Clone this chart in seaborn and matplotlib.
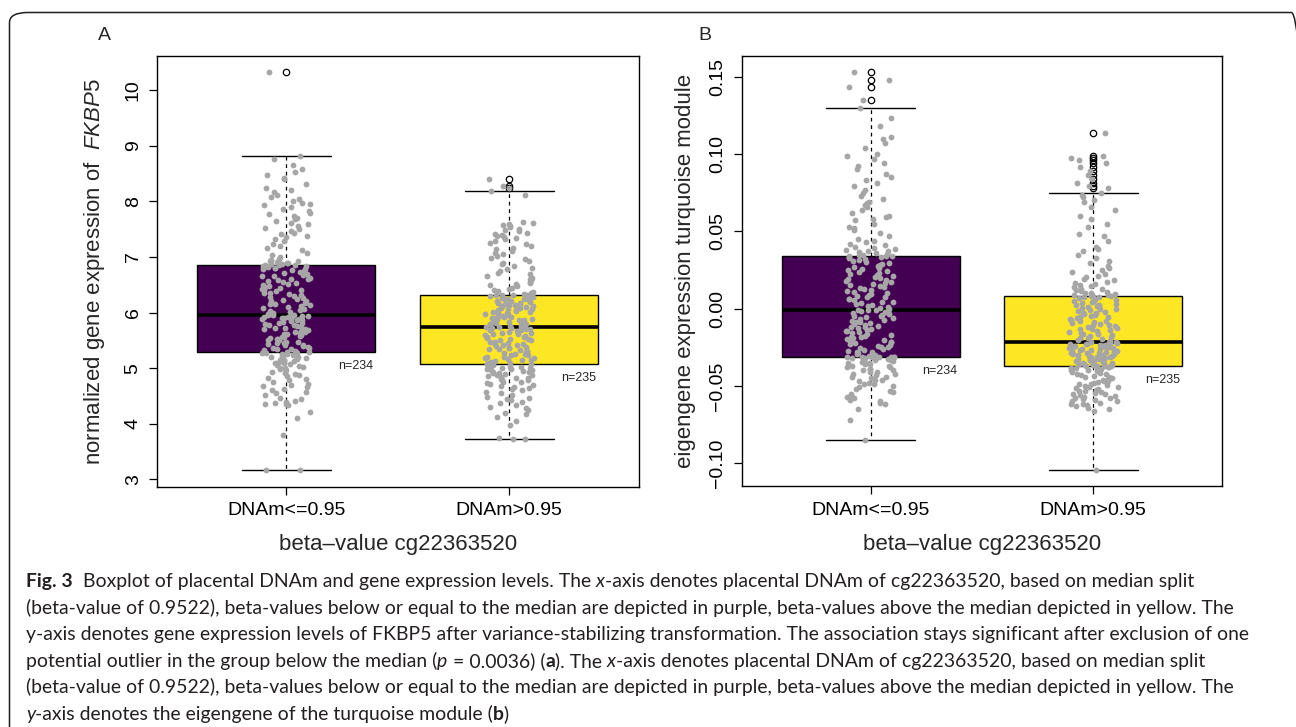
import numpy as np
import pandas as pd
import matplotlib
matplotlib.use("Agg")
import matplotlib.pyplot as plt
from matplotlib import font_manager
from matplotlib.patches import FancyBboxPatch
import seaborn as sns

# groups (median split of cg22363520) and the viridis ends used for the boxes
groups = ["DNAm<=0.95", "DNAm>0.95"]
box_colors = ["#440154", "#FDE725"]

# panel A: normalized FKBP5 expression per sample (sorted)
fkbp5_low = [
    3.16, 3.17, 3.80, 4.10, 4.22, 4.33, 4.35, 4.36, 4.38, 4.40,
    4.41, 4.44, 4.47, 4.52, 4.55, 4.58, 4.60, 4.63, 4.66, 4.68,
    4.70, 4.72, 4.75, 4.78, 4.80, 4.83, 4.86, 4.88, 4.90, 4.92,
    4.94, 4.96, 4.98, 5.00, 5.01, 5.03, 5.04, 5.06, 5.07, 5.09,
    5.10, 5.11, 5.13, 5.14, 5.15, 5.17, 5.18, 5.19, 5.20, 5.21,
    5.22, 5.23, 5.24, 5.25, 5.26, 5.27, 5.28, 5.28,
    5.29, 5.29,
    5.30, 5.31, 5.32, 5.34, 5.35, 5.36, 5.37, 5.38, 5.40, 5.41,
    5.42, 5.43, 5.45, 5.46, 5.47, 5.48, 5.50, 5.51, 5.52, 5.53,
    5.55, 5.56, 5.57, 5.58, 5.60, 5.61, 5.62, 5.63, 5.65, 5.66,
    5.67, 5.68, 5.70, 5.71, 5.72, 5.73, 5.75, 5.76, 5.77, 5.78,
    5.80, 5.81, 5.82, 5.83, 5.85, 5.86, 5.87, 5.88, 5.89, 5.90,
    5.91, 5.92, 5.93, 5.93, 5.94, 5.94,
    5.95, 5.95,
    5.96, 5.98, 6.00, 6.01, 6.03, 6.05, 6.06, 6.08, 6.10, 6.11,
    6.13, 6.15, 6.16, 6.18, 6.20, 6.21, 6.23, 6.25, 6.26, 6.28,
    6.30, 6.31, 6.33, 6.35, 6.36, 6.38, 6.40, 6.41, 6.43, 6.45,
    6.46, 6.48, 6.50, 6.51, 6.53, 6.55, 6.56, 6.58, 6.60, 6.61,
    6.63, 6.65, 6.66, 6.68, 6.70, 6.71, 6.73, 6.75, 6.76, 6.78,
    6.79, 6.80, 6.81, 6.82, 6.83, 6.84,
    6.85, 6.85,
    6.86, 6.87, 6.88, 6.89, 6.90, 6.91, 6.92, 6.93, 6.95, 6.97,
    7.00, 7.04, 7.08, 7.12, 7.16, 7.20, 7.24, 7.28, 7.32, 7.36,
    7.38, 7.41, 7.44, 7.47, 7.50, 7.53, 7.56, 7.59, 7.62, 7.65,
    7.68, 7.71, 7.74, 7.77, 7.80, 7.83, 7.86, 7.90, 7.93, 7.96,
    7.98, 8.01, 8.04, 8.08, 8.12, 8.17, 8.20, 8.25, 8.32, 8.40,
    8.43, 8.47, 8.53, 8.58, 8.65, 8.76, 8.82, 10.32,
]
fkbp5_high = [
    3.72, 3.73, 3.74, 3.97, 4.05, 4.12, 4.18, 4.20, 4.25, 4.28,
    4.30, 4.33, 4.38, 4.40, 4.42, 4.44, 4.46, 4.48, 4.52, 4.55,
    4.57, 4.60, 4.62, 4.64, 4.66, 4.68, 4.70, 4.72, 4.73, 4.75,
    4.76, 4.78, 4.79, 4.80, 4.82, 4.83, 4.84, 4.86, 4.87, 4.88,
    4.90, 4.91, 4.92, 4.93, 4.94, 4.95, 4.96, 4.97, 4.98, 4.99,
    5.00, 5.01, 5.02, 5.03, 5.04, 5.05, 5.06, 5.06,
    5.07, 5.07,
    5.08, 5.09, 5.10, 5.12, 5.13, 5.14, 5.15, 5.17, 5.18, 5.19,
    5.20, 5.21, 5.23, 5.24, 5.25, 5.26, 5.28, 5.29, 5.30, 5.31,
    5.32, 5.34, 5.35, 5.36, 5.37, 5.39, 5.40, 5.41, 5.42, 5.43,
    5.45, 5.46, 5.47, 5.48, 5.50, 5.51, 5.52, 5.53, 5.54, 5.56,
    5.57, 5.58, 5.59, 5.61, 5.62, 5.63, 5.64, 5.65, 5.67, 5.68,
    5.69, 5.70, 5.71, 5.72, 5.73, 5.74, 5.74,
    5.75,
    5.76, 5.77, 5.78, 5.79, 5.80, 5.81, 5.82, 5.83, 5.84, 5.85,
    5.86, 5.87, 5.88, 5.89, 5.90, 5.91, 5.92, 5.93, 5.94, 5.95,
    5.96, 5.97, 5.98, 5.99, 6.00, 6.01, 6.02, 6.03, 6.04, 6.05,
    6.06, 6.07, 6.08, 6.09, 6.10, 6.11, 6.12, 6.13, 6.14, 6.15,
    6.16, 6.17, 6.18, 6.19, 6.20, 6.21, 6.22, 6.23, 6.24, 6.25,
    6.26, 6.27, 6.28, 6.29, 6.30, 6.31, 6.31,
    6.32, 6.32,
    6.33, 6.35, 6.37, 6.39, 6.41, 6.43, 6.45, 6.47, 6.49, 6.51,
    6.53, 6.55, 6.58, 6.60, 6.63, 6.66, 6.69, 6.72, 6.75, 6.78,
    6.81, 6.84, 6.87, 6.90, 6.93, 6.96, 6.99, 7.02, 7.05, 7.08,
    7.11, 7.14, 7.17, 7.20, 7.23, 7.26, 7.29, 7.32, 7.34, 7.36,
    7.38, 7.40, 7.42, 7.44, 7.46, 7.48, 7.51, 7.54, 7.56, 7.58,
    7.60, 7.62, 7.63, 8.12, 8.18, 8.25, 8.27, 8.41,
]

# panel B: eigengene of the turquoise module per sample (sorted)
turq_low = [
    -0.085, -0.072, -0.065, -0.062, -0.061, -0.060, -0.059, -0.058, -0.057, -0.056,
    -0.055, -0.054, -0.053, -0.052, -0.051, -0.050, -0.049, -0.049, -0.048, -0.047,
    -0.046, -0.046, -0.045, -0.044, -0.044, -0.043, -0.042, -0.042, -0.041, -0.041,
    -0.040, -0.040, -0.039, -0.039, -0.038, -0.038, -0.037, -0.037, -0.036, -0.036,
    -0.0355, -0.035, -0.0345, -0.034, -0.0337, -0.0334, -0.0331, -0.0328, -0.0325, -0.0322,
    -0.0320, -0.0318, -0.0316, -0.0314, -0.0313, -0.0312, -0.0311, -0.0311,
    -0.031, -0.031,
    -0.0305, -0.0300, -0.0294, -0.0289, -0.0283, -0.0278, -0.0273, -0.0267, -0.0262, -0.0256,
    -0.0251, -0.0246, -0.0240, -0.0235, -0.0229, -0.0224, -0.0219, -0.0213, -0.0208, -0.0202,
    -0.0197, -0.0192, -0.0186, -0.0181, -0.0175, -0.0170, -0.0165, -0.0159, -0.0154, -0.0148,
    -0.0143, -0.0138, -0.0132, -0.0127, -0.0121, -0.0116, -0.0111, -0.0105, -0.0100, -0.0094,
    -0.0089, -0.0084, -0.0078, -0.0073, -0.0067, -0.0062, -0.0057, -0.0051, -0.0046, -0.0040,
    -0.0035, -0.0030, -0.0024, -0.0019, -0.0015, -0.0012,
    -0.001, -0.001,
    -0.0004, 0.0002, 0.0008, 0.0015, 0.0021, 0.0027, 0.0034, 0.0040, 0.0046, 0.0053,
    0.0059, 0.0065, 0.0072, 0.0078, 0.0084, 0.0091, 0.0097, 0.0103, 0.0110, 0.0116,
    0.0122, 0.0129, 0.0135, 0.0141, 0.0148, 0.0154, 0.0160, 0.0167, 0.0173, 0.0179,
    0.0186, 0.0192, 0.0198, 0.0205, 0.0211, 0.0217, 0.0224, 0.0230, 0.0236, 0.0243,
    0.0249, 0.0255, 0.0262, 0.0268, 0.0274, 0.0281, 0.0287, 0.0293, 0.0300, 0.0306,
    0.0312, 0.0319, 0.0325, 0.0331, 0.0336, 0.0340,
    0.0342, 0.0342,
    0.0345, 0.0350, 0.0355, 0.0360, 0.0365, 0.0370, 0.0375, 0.0380, 0.0385, 0.0390,
    0.040, 0.041, 0.042, 0.043, 0.044, 0.045, 0.047, 0.049, 0.051, 0.052,
    0.053, 0.055, 0.057, 0.058, 0.059, 0.060, 0.062, 0.064, 0.066, 0.067,
    0.068, 0.069, 0.071, 0.073, 0.075, 0.077, 0.079, 0.081, 0.083, 0.085,
    0.087, 0.090, 0.092, 0.094, 0.097, 0.099, 0.100, 0.104, 0.107, 0.110,
    0.111, 0.118, 0.123, 0.130, 0.1352, 0.1436, 0.1480, 0.1533,
]
turq_high = [
    -0.1047, -0.0660, -0.0650, -0.0640, -0.0630, -0.0625, -0.0620, -0.0615, -0.0610, -0.0600,
    -0.0595, -0.0590, -0.0585, -0.0580, -0.0575, -0.0570, -0.0565, -0.0560, -0.0555, -0.0550,
    -0.0545, -0.0540, -0.0535, -0.0530, -0.0525, -0.0520, -0.0515, -0.0510, -0.0505, -0.0500,
    -0.0495, -0.0490, -0.0485, -0.0480, -0.0475, -0.0470, -0.0465, -0.0460, -0.0455, -0.0450,
    -0.0445, -0.0440, -0.0435, -0.0430, -0.0425, -0.0420, -0.0415, -0.0410, -0.0405, -0.0400,
    -0.0396, -0.0392, -0.0388, -0.0385, -0.0382, -0.0379, -0.0377, -0.0375,
    -0.0374, -0.0374,
    -0.0371, -0.0368, -0.0366, -0.0363, -0.0360, -0.0357, -0.0354, -0.0352, -0.0349, -0.0346,
    -0.0343, -0.0340, -0.0338, -0.0335, -0.0332, -0.0329, -0.0326, -0.0324, -0.0321, -0.0318,
    -0.0315, -0.0312, -0.0310, -0.0307, -0.0304, -0.0301, -0.0298, -0.0296, -0.0293, -0.0290,
    -0.0287, -0.0284, -0.0282, -0.0279, -0.0276, -0.0273, -0.0270, -0.0268, -0.0265, -0.0262,
    -0.0259, -0.0256, -0.0254, -0.0251, -0.0248, -0.0245, -0.0242, -0.0240, -0.0237, -0.0234,
    -0.0231, -0.0228, -0.0226, -0.0223, -0.0220, -0.0217, -0.0215,
    -0.0213,
    -0.0208, -0.0203, -0.0198, -0.0192, -0.0187, -0.0182, -0.0177, -0.0172, -0.0166, -0.0161,
    -0.0156, -0.0151, -0.0146, -0.0140, -0.0135, -0.0130, -0.0125, -0.0120, -0.0114, -0.0109,
    -0.0104, -0.0099, -0.0094, -0.0088, -0.0083, -0.0078, -0.0073, -0.0068, -0.0062, -0.0057,
    -0.0052, -0.0047, -0.0042, -0.0036, -0.0031, -0.0026, -0.0021, -0.0016, -0.0010, -0.0005,
    0.0000, 0.0005, 0.0010, 0.0016, 0.0021, 0.0026, 0.0031, 0.0036, 0.0042, 0.0047,
    0.0052, 0.0057, 0.0062, 0.0068, 0.0073, 0.0078, 0.0081,
    0.0083, 0.0083,
    0.0086, 0.0090, 0.0094, 0.0098, 0.0102, 0.0107, 0.0112, 0.0118, 0.0124, 0.0130,
    0.0137, 0.0144, 0.0151, 0.0159, 0.0167, 0.0175, 0.0184, 0.0193, 0.0203, 0.0213,
    0.0224, 0.0236, 0.0249, 0.0263, 0.0278, 0.0294, 0.0310, 0.0330, 0.0350, 0.0370,
    0.0385, 0.0400, 0.0440, 0.0470, 0.0480, 0.0530, 0.0550, 0.0580, 0.0600, 0.0640,
    0.0655, 0.0690, 0.0700, 0.0720, 0.0735, 0.0747,
    0.0780, 0.0795, 0.0815, 0.0840, 0.0865, 0.0890, 0.0915, 0.0940, 0.0960, 0.0975,
    0.0990, 0.1137,
]

yticks_a = [3, 4, 5, 6, 7, 8, 9, 10]
yticks_b = [-0.10, -0.05, 0.00, 0.05, 0.10, 0.15]

caption_lines = [
    [("Fig. 3", "b"), ("  Boxplot of placental DNAm and gene expression levels. The ", "r"),
     ("x", "i"), ("-axis denotes placental DNAm of cg22363520, based on median split", "r")],
    [("(beta-value of 0.9522), beta-values below or equal to the median are depicted in purple, "
      "beta-values above the median depicted in yellow. The", "r")],
    [("y-axis denotes gene expression levels of FKBP5 after variance-stabilizing transformation. "
      "The association stays significant after exclusion of one", "r")],
    [("potential outlier in the group below the median (", "r"), ("p", "i"), (" = 0.0036) (", "r"),
     ("a", "b"), ("). The ", "r"), ("x", "i"),
     ("-axis denotes placental DNAm of cg22363520, based on median split", "r")],
    [("(beta-value of 0.9522), beta-values below or equal to the median are depicted in purple, "
      "beta-values above the median depicted in yellow. The", "r")],
    [("y", "i"), ("-axis denotes the eigengene of the turquoise module (", "r"), ("b", "b"), (")", "r")],
]


def have_font(name):
    try:
        font_manager.findfont(font_manager.FontProperties(family=name), fallback_to_default=False)
        return True
    except ValueError:
        return False


plot_font = "Liberation Sans" if have_font("Liberation Sans") else "DejaVu Sans"
cap_font = "Lato" if have_font("Lato") else plot_font

sns.set_theme(style="ticks")
plt.rcParams["font.family"] = [plot_font, "DejaVu Sans"]
plt.rcParams["mathtext.fontset"] = "custom"
plt.rcParams["mathtext.rm"] = plot_font
plt.rcParams["mathtext.it"] = plot_font + ":italic"
plt.rcParams["axes.edgecolor"] = "black"
plt.rcParams["xtick.color"] = "black"
plt.rcParams["ytick.color"] = "black"
np.random.seed(7)

W, H = 1296, 727
fig = plt.figure(figsize=(W / 100, H / 100), dpi=100)
fig.patch.set_facecolor("white")


def px_rect(x0, y0, x1, y1):
    return [x0 / W, 1 - y1 / H, (x1 - x0) / W, (y1 - y0) / H]


def minus(v):
    return f"{v:.2f}".replace("-", "\u2212")


def draw_panel(ax, low, high, ylabel, yticks, ylim, ylab_x):
    df = pd.DataFrame({
        "group": [groups[0]] * len(low) + [groups[1]] * len(high),
        "value": low + high,
    })
    sns.boxplot(data=df, x="group", y="value", hue="group", order=groups, hue_order=groups,
                palette=box_colors, saturation=1, width=0.8, linecolor="black", linewidth=1.0,
                legend=False, ax=ax,
                whiskerprops=dict(linestyle=(0, (3, 3)), linewidth=0.9),
                medianprops=dict(linewidth=2.6, color="black"),
                flierprops=dict(marker="o", markersize=4.6, markerfacecolor="none",
                                markeredgecolor="black", markeredgewidth=0.9))
    sns.stripplot(data=df, x="group", y="value", order=groups, color="#A6A6A6",
                  size=4.2, jitter=0.11, linewidth=0, ax=ax, zorder=3)

    ax.set_xlim(-0.58, 1.58)
    ax.set_ylim(*ylim)
    ax.set_yticks(yticks)
    ax.set_yticklabels([minus(v) if isinstance(v, float) else str(v) for v in yticks],
                       rotation=90, va="center")
    ax.set_xticks([0, 1])
    ax.set_xticklabels(groups)
    for spine in ax.spines.values():
        spine.set_visible(True)
        spine.set_color("black")
        spine.set_linewidth(1.0)
    ax.tick_params(length=6, width=0.9, labelsize=14, pad=5)

    ax.set_xlabel("beta\u2013value cg22363520", fontsize=16)
    ax.xaxis.set_label_coords(0.5, -0.135)
    ax.xaxis.label.set_va("center")
    ax.set_ylabel(ylabel, fontsize=16)
    ax.yaxis.set_label_coords(ylab_x, 0.5)
    ax.yaxis.label.set_va("center")

    # sample sizes, just under the lower hinge
    for i, vals in enumerate([low, high]):
        q1 = np.percentile(vals, 25)
        ax.annotate(f"n={len(vals)}", xy=(i + 0.31, q1), xytext=(0, -14),
                    textcoords="offset pixels", ha="center", va="center", fontsize=9)


ax_a = fig.add_axes(px_rect(157, 55.8, 638.5, 486.6))
draw_panel(ax_a, fkbp5_low, fkbp5_high, "normalized gene expression of  $\\mathit{FKBP5}$",
           yticks_a, (2.87, 10.62), -0.129)
ax_b = fig.add_axes(px_rect(741.5, 56, 1222.3, 486.4))
draw_panel(ax_b, turq_low, turq_high, "eigengene expression turquoise module",
           yticks_b, (-0.115, 0.1634), -0.1175)

fig.text(104 / W, 1 - 36 / H, "A", ha="center", va="center", fontsize=14)
fig.text(705 / W, 1 - 36 / H, "B", ha="center", va="center", fontsize=14)

# rounded frame around the figure
frame = FancyBboxPatch((9.5 / W, -20 / H), 1300 / W, (727 + 20 - 12.5) / H,
                       boxstyle="round,pad=0,rounding_size=0.014", transform=fig.transFigure,
                       facecolor="none", edgecolor="#231F20", linewidth=1.1, clip_on=False)
fig.patches.append(frame)

# caption with mixed bold / italic pieces
renderer = fig.canvas.get_renderer()
cap_color = "#231F20"


def cap_props(style, size):
    return dict(family=[cap_font, "DejaVu Sans"], fontsize=size, color=cap_color,
                fontweight="bold" if style == "b" else "normal",
                fontstyle="italic" if style == "i" else "normal")


def text_width(s, props):
    t = fig.text(0, 0, s, **props)
    w = t.get_window_extent(renderer).width
    t.remove()
    return w


def advance(s, props):
    return text_width(s + "|", props) - text_width("|", props)


base = 13.0
w2 = advance(caption_lines[1][0][0], cap_props("r", base))
cap_size = base * 1208 / w2

for k, parts in enumerate(caption_lines):
    x = 26.0
    y = 587 + k * 26.6
    for s, style in parts:
        props = cap_props(style, cap_size)
        fig.text(x / W, 1 - y / H, s, ha="left", va="baseline", **props)
        x += advance(s, props)

fig.savefig("out.png", dpi=100)
